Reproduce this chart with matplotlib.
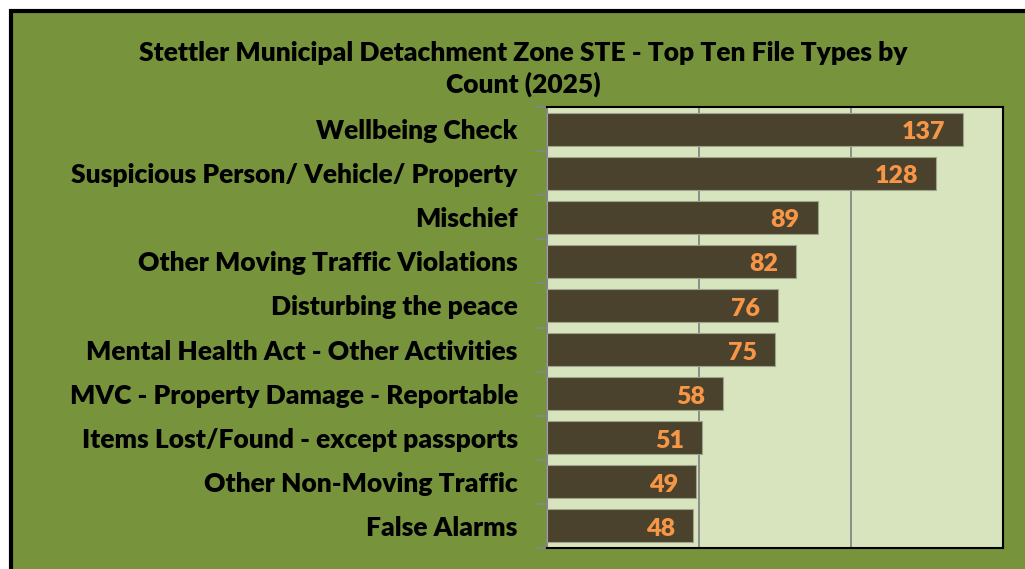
"""
Top ten file types, horizontal bar chart
"""
import numpy as np
import matplotlib.pyplot as plt
from matplotlib.patches import Rectangle

COLOR_BG = "#77933C"
COLOR_PLOT = "#D7E4BD"
COLOR_BAR = "#4A422C"
COLOR_LABEL = "#F79646"
COLOR_GRID = "#868686"

categories = [
	"Wellbeing Check",
	"Suspicious Person/ Vehicle/ Property",
	"Mischief",
	"Other Moving Traffic Violations",
	"Disturbing the peace",
	"Mental Health Act - Other Activities",
	"MVC - Property Damage - Reportable",
	"Items Lost/Found - except passports",
	"Other Non-Moving Traffic",
	"False Alarms",
]
counts = [137, 128, 89, 82, 76, 75, 58, 51, 49, 48]
title_text = "Stettler Municipal Detachment Zone STE - Top Ten File Types by\nCount (2025)"

plt.rcParams["font.family"] = ["Lato", "DejaVu Sans"]
WEIGHT = "heavy"

W, H = 1025, 569
fig = plt.figure(figsize=(W / 100, H / 100), dpi=100, facecolor="white")

# outer frame, cut off at the right and bottom like the source
fig.patches.append(Rectangle(
	(11 / W, -0.1), 1.2, 1 - 11 / H + 0.1, transform=fig.transFigure,
	facecolor=COLOR_BG, edgecolor="black", linewidth=3, zorder=-10))

ax = fig.add_axes([547 / W, 1 - 548 / H, (1003 - 547) / W, (548 - 107) / H])
ax.set_facecolor(COLOR_PLOT)

y = np.arange(len(categories))
ax.barh(y, counts, height=0.75, color=COLOR_BAR, edgecolor="#9BA58A",
		linewidth=0.8, zorder=3)
for yi, v in zip(y, counts):
	ax.text(v - 6, yi + 0.07, str(v), ha="right", va="center", color=COLOR_LABEL,
			fontsize=18, fontweight=WEIGHT, zorder=4)

ax.set_xlim(0, 150)
ax.set_ylim(len(categories) - 0.5, -0.5)
ax.set_xticks([0, 50, 100, 150])
ax.set_xticklabels([])
ax.tick_params(axis="x", length=0)
ax.grid(axis="x", color=COLOR_GRID, linewidth=1.3, zorder=1)

ax.set_yticks(y)
ax.set_yticklabels(categories, fontsize=19, fontweight=WEIGHT)
ax.set_yticks(np.arange(-0.5, len(categories)), minor=True)
ax.tick_params(axis="y", which="major", length=0, pad=21)
ax.tick_params(axis="y", which="minor", length=9, width=1.3, color=COLOR_GRID)

for side in ["top", "right", "bottom"]:
	ax.spines[side].set_color("black")
	ax.spines[side].set_linewidth(1.5)
ax.spines["left"].set_color(COLOR_GRID)
ax.spines["left"].set_linewidth(1.5)

fig.text(523 / W, 1 - 69 / H, title_text, ha="center", va="center",
		 fontsize=19, fontweight=WEIGHT, linespacing=1.35)

fig.savefig("out.png", dpi=100, facecolor=fig.get_facecolor())
